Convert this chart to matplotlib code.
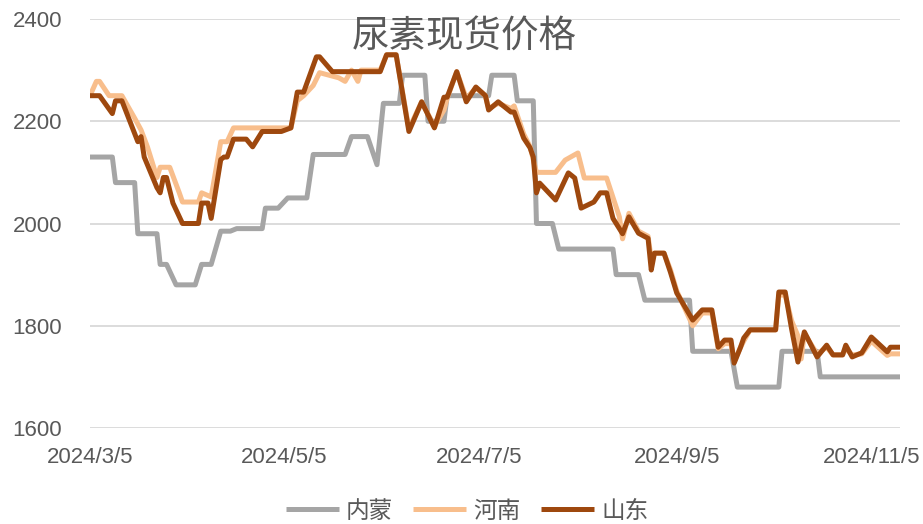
import numpy as np
import matplotlib
matplotlib.use("Agg")
import matplotlib.pyplot as plt

plt.rcParams['font.family'] = ['Liberation Sans', 'Noto Sans CJK SC', 'DejaVu Sans']

start = np.datetime64('2024-03-05')

# 内蒙 (days after 2024/3/5, price)
nm_days = [0, 7, 8, 14, 15, 21, 22, 24, 27, 33, 35, 38, 41, 44, 46, 54, 55, 59, 62, 68, 70, 80, 82, 87,
           90, 92, 97, 98, 105, 106, 111, 112, 125, 126, 133, 134, 139, 140, 145, 147, 164, 165, 172,
           174, 188, 189, 201, 203, 216, 217, 228, 229, 254]
nm_vals = [2130, 2130, 2080, 2080, 1980, 1980, 1920, 1920, 1880, 1880, 1920, 1920, 1985, 1985, 1990, 1990,
           2030, 2030, 2050, 2050, 2135, 2135, 2170, 2170, 2115, 2235, 2235, 2290, 2290, 2200, 2200, 2250,
           2250, 2290, 2290, 2240, 2240, 2000, 2000, 1950, 1950, 1900, 1900, 1850, 1850, 1750, 1750, 1680,
           1680, 1750, 1750, 1700, 1700]

# 河南
hn_days = [0, 2, 3, 6, 10, 14, 16, 18, 21, 22, 25, 28, 29, 34, 35, 38, 41, 43, 45, 63, 65, 67, 70, 72, 75,
           78, 80, 82, 84, 85, 91, 93, 96, 100, 104, 108, 111, 112, 115, 118, 121, 124, 125, 128, 132, 133,
           136, 138, 140, 146, 149, 153, 155, 162, 166, 167, 169, 172, 175, 176, 177, 180, 182, 184, 189,
           192, 195, 197, 199, 201, 202, 204, 205, 207, 215, 216, 218, 220, 222, 223, 224, 228, 231, 233,
           236, 237, 239, 242, 245, 250, 251, 254]
hn_vals = [2250, 2278, 2278, 2250, 2250, 2206, 2183, 2150, 2090, 2110, 2110, 2060, 2042, 2042, 2060, 2052,
           2160, 2160, 2187, 2187, 2240, 2250, 2270, 2295, 2290, 2285, 2278, 2300, 2278, 2300, 2300, 2330,
           2330, 2185, 2238, 2190, 2222, 2245, 2297, 2245, 2265, 2250, 2225, 2235, 2225, 2230, 2175, 2150,
           2100, 2100, 2124, 2138, 2089, 2089, 2013, 1970, 2020, 1985, 1975, 1930, 1942, 1942, 1910, 1868,
           1800, 1825, 1825, 1755, 1765, 1765, 1730, 1758, 1770, 1792, 1792, 1860, 1860, 1810, 1780, 1735,
           1785, 1745, 1758, 1743, 1743, 1755, 1743, 1745, 1770, 1742, 1745, 1745]

# 山东
sd_days = [0, 3, 7, 8, 10, 15, 16, 17, 21, 22, 23, 24, 26, 29, 34, 35, 37, 38, 41, 42, 43, 45, 49, 51, 54,
           60, 63, 65, 67, 71, 72, 76, 91, 93, 96, 100, 104, 108, 111, 112, 115, 118, 121, 124, 125, 128,
           132, 133, 136, 138, 139, 140, 141, 146, 150, 152, 154, 158, 160, 162, 164, 167, 169, 172, 175,
           176, 177, 180, 182, 184, 189, 192, 195, 197, 199, 201, 202, 204, 205, 207, 215, 216, 218, 220,
           222, 224, 228, 231, 233, 236, 237, 239, 242, 245, 250, 251, 254]
sd_vals = [2250, 2250, 2215, 2240, 2240, 2160, 2170, 2130, 2070, 2060, 2090, 2090, 2040, 2000, 2000, 2040,
           2040, 2010, 2125, 2130, 2130, 2165, 2165, 2150, 2180, 2180, 2187, 2257, 2257, 2326, 2326, 2297,
           2297, 2330, 2330, 2180, 2238, 2187, 2247, 2247, 2297, 2238, 2267, 2250, 2222, 2238, 2218, 2218,
           2167, 2148, 2130, 2060, 2079, 2046, 2099, 2089, 2030, 2042, 2060, 2060, 2010, 1980, 2013, 1981,
           1971, 1909, 1942, 1942, 1905, 1864, 1811, 1831, 1831, 1758, 1772, 1772, 1727, 1758, 1776, 1792,
           1792, 1866, 1866, 1794, 1729, 1788, 1739, 1762, 1743, 1743, 1762, 1739, 1747, 1778, 1749, 1758,
           1758]

series_names = ['内蒙', '河南', '山东']
series_colors = ['#A5A5A5', '#F8BE8C', '#9E480E']
tick_dates = ['2024-03-05', '2024-05-05', '2024-07-05', '2024-09-05', '2024-11-05']
tick_labels = ['2024/3/5', '2024/5/5', '2024/7/5', '2024/9/5', '2024/11/5']
y_ticks = [1600, 1800, 2000, 2200, 2400]
title = '尿素现货价格'

fig = plt.figure(figsize=(9.23, 5.24), dpi=100)
ax = fig.add_axes([90 / 923, 1 - 428 / 524, 810 / 923, 409 / 524])

def to_dates(days):
    return start + np.array(days, dtype='timedelta64[D]')

for d, v, name, c in zip([nm_days, hn_days, sd_days], [nm_vals, hn_vals, sd_vals], series_names, series_colors):
    ax.plot(to_dates(d), v, color=c, lw=3.6, label=name, solid_joinstyle='round', solid_capstyle='butt')

ax.set_ylim(1600, 2400)
ax.set_xlim(start, start + np.timedelta64(254, 'D'))
ax.set_yticks(y_ticks)
ax.set_yticklabels([str(t) for t in y_ticks])
ax.set_xticks([np.datetime64(t) for t in tick_dates])
ax.set_xticklabels(tick_labels)
ax.grid(axis='y', color='#D9D9D9', lw=1.3)
ax.set_axisbelow(True)
for s in ax.spines.values():
    s.set_visible(False)
ax.tick_params(axis='both', length=0, labelsize=16, labelcolor='#595959')
ax.tick_params(axis='y', pad=20)
ax.tick_params(axis='x', pad=14)

fig.text(464 / 923, 1 - 37 / 524, title, ha='center', va='center', fontsize=27, color='#595959',
         family=['Noto Sans CJK SC', 'DejaVu Sans'])

leg = fig.legend(loc='center', bbox_to_anchor=(467 / 923, 1 - 511 / 524), ncol=3, frameon=False,
                 handlelength=2.25, handletextpad=0.3, columnspacing=0.85,
                 prop={'family': ['Noto Sans CJK SC', 'DejaVu Sans'], 'size': 17})
for t in leg.get_texts():
    t.set_color('#595959')

fig.savefig('out.png', dpi=100)
